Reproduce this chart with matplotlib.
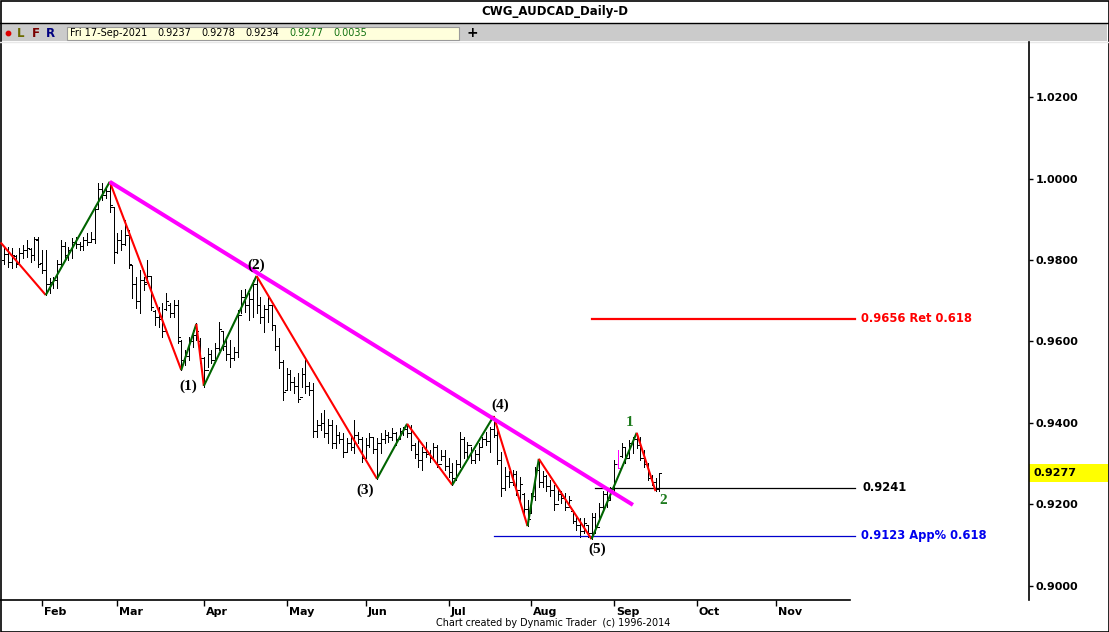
import numpy as np
import pandas as pd
import matplotlib
matplotlib.use("Agg")
import matplotlib.pyplot as plt
from matplotlib.patches import Rectangle, Circle

# ---------------- data (AUDCAD daily, 18-Jan-2021 .. 17-Sep-2021) ----------------
opens = [0.9800, 0.9815, 0.9795, 0.9810, 0.9792, 0.9818, 0.9825, 0.9828, 0.9812, 0.9850,
         0.9792, 0.9776, 0.9740, 0.9745, 0.9750, 0.9790, 0.9835, 0.9812, 0.9825, 0.9845,
         0.9840, 0.9835, 0.9850, 0.9845, 0.9852, 0.9925, 0.9975, 0.9960, 0.9970, 0.9930,
         0.9820, 0.9850, 0.9840, 0.9862, 0.9788, 0.9740, 0.9700, 0.9750, 0.9745, 0.9760,
         0.9675, 0.9660, 0.9655, 0.9680, 0.9690, 0.9670, 0.9690, 0.9600, 0.9555, 0.9565,
         0.9600, 0.9615, 0.9600, 0.9560, 0.9530, 0.9570, 0.9555, 0.9585, 0.9625, 0.9590,
         0.9570, 0.9560, 0.9575, 0.9665, 0.9710, 0.9690, 0.9705, 0.9740, 0.9690, 0.9660,
         0.9680, 0.9690, 0.9640, 0.9590, 0.9550, 0.9480, 0.9520, 0.9500, 0.9490, 0.9465,
         0.9520, 0.9490, 0.9480, 0.9380, 0.9395, 0.9400, 0.9375, 0.9395, 0.9350, 0.9370,
         0.9360, 0.9330, 0.9350, 0.9340, 0.9370, 0.9360, 0.9315, 0.9345, 0.9365, 0.9335,
         0.9350, 0.9360, 0.9370, 0.9365, 0.9375, 0.9360, 0.9380, 0.9385, 0.9375, 0.9345,
         0.9325, 0.9310, 0.9330, 0.9325, 0.9315, 0.9340, 0.9300, 0.9320, 0.9295, 0.9280,
         0.9265, 0.9300, 0.9360, 0.9330, 0.9345, 0.9310, 0.9325, 0.9340, 0.9360, 0.9355,
         0.9385, 0.9370, 0.9310, 0.9240, 0.9270, 0.9255, 0.9275, 0.9235, 0.9225, 0.9190,
         0.9180, 0.9220, 0.9285, 0.9255, 0.9270, 0.9245, 0.9235, 0.9200, 0.9225, 0.9215,
         0.9195, 0.9185, 0.9160, 0.9150, 0.9135, 0.9150, 0.9130, 0.9170, 0.9145, 0.9195,
         0.9225, 0.9210, 0.9238, 0.9300, 0.9320, 0.9340, 0.9315, 0.9350, 0.9360, 0.9345,
         0.9315, 0.9300, 0.9265, 0.9255, 0.9237]
highs = [0.9834, 0.9833, 0.9829, 0.9812, 0.9829, 0.9837, 0.9849, 0.9829, 0.9857, 0.9857,
         0.9825, 0.9825, 0.9755, 0.9759, 0.9800, 0.9849, 0.9845, 0.9833, 0.9853, 0.9857,
         0.9845, 0.9857, 0.9866, 0.9869, 0.9931, 0.9988, 0.9988, 0.9980, 0.9992, 0.9931,
         0.9866, 0.9874, 0.9898, 0.9874, 0.9788, 0.9759, 0.9775, 0.9759, 0.9800, 0.9759,
         0.9677, 0.9685, 0.9694, 0.9718, 0.9694, 0.9702, 0.9702, 0.9604, 0.9579, 0.9612,
         0.9628, 0.9645, 0.9608, 0.9563, 0.9583, 0.9579, 0.9596, 0.9649, 0.9624, 0.9612,
         0.9604, 0.9587, 0.9677, 0.9726, 0.9730, 0.9718, 0.9751, 0.9761, 0.9710, 0.9690,
         0.9710, 0.9690, 0.9641, 0.9608, 0.9555, 0.9534, 0.9530, 0.9514, 0.9522, 0.9534,
         0.9555, 0.9501, 0.9497, 0.9407, 0.9424, 0.9432, 0.9411, 0.9407, 0.9395, 0.9379,
         0.9375, 0.9362, 0.9366, 0.9407, 0.9379, 0.9366, 0.9362, 0.9375, 0.9366, 0.9362,
         0.9375, 0.9383, 0.9379, 0.9387, 0.9379, 0.9387, 0.9391, 0.9398, 0.9395, 0.9350,
         0.9358, 0.9342, 0.9354, 0.9334, 0.9350, 0.9346, 0.9334, 0.9334, 0.9313, 0.9301,
         0.9309, 0.9379, 0.9366, 0.9354, 0.9342, 0.9334, 0.9350, 0.9366, 0.9379, 0.9391,
         0.9417, 0.9392, 0.9330, 0.9293, 0.9281, 0.9285, 0.9281, 0.9268, 0.9228, 0.9211,
         0.9228, 0.9293, 0.9312, 0.9281, 0.9273, 0.9260, 0.9248, 0.9236, 0.9232, 0.9228,
         0.9220, 0.9187, 0.9174, 0.9166, 0.9166, 0.9150, 0.9179, 0.9179, 0.9203, 0.9232,
         0.9236, 0.9244, 0.9309, 0.9334, 0.9350, 0.9342, 0.9358, 0.9366, 0.9376, 0.9366,
         0.9334, 0.9301, 0.9273, 0.9264, 0.9278]
lows = [0.9790, 0.9784, 0.9780, 0.9784, 0.9796, 0.9804, 0.9808, 0.9796, 0.9800, 0.9784,
        0.9767, 0.9714, 0.9718, 0.9731, 0.9731, 0.9784, 0.9804, 0.9800, 0.9804, 0.9829,
        0.9825, 0.9825, 0.9837, 0.9845, 0.9841, 0.9927, 0.9947, 0.9951, 0.9919, 0.9792,
        0.9816, 0.9825, 0.9837, 0.9780, 0.9706, 0.9681, 0.9669, 0.9726, 0.9743, 0.9677,
        0.9640, 0.9636, 0.9612, 0.9677, 0.9661, 0.9661, 0.9596, 0.9530, 0.9542, 0.9555,
        0.9587, 0.9604, 0.9547, 0.9489, 0.9538, 0.9547, 0.9555, 0.9579, 0.9579, 0.9555,
        0.9538, 0.9555, 0.9563, 0.9669, 0.9673, 0.9653, 0.9661, 0.9669, 0.9645, 0.9624,
        0.9649, 0.9628, 0.9579, 0.9534, 0.9456, 0.9481, 0.9481, 0.9473, 0.9452, 0.9489,
        0.9473, 0.9469, 0.9366, 0.9366, 0.9383, 0.9366, 0.9350, 0.9338, 0.9338, 0.9350,
        0.9317, 0.9330, 0.9334, 0.9326, 0.9350, 0.9305, 0.9317, 0.9342, 0.9326, 0.9263,
        0.9326, 0.9350, 0.9354, 0.9358, 0.9346, 0.9362, 0.9371, 0.9366, 0.9334, 0.9313,
        0.9293, 0.9285, 0.9317, 0.9305, 0.9313, 0.9293, 0.9309, 0.9285, 0.9268, 0.9248,
        0.9260, 0.9293, 0.9313, 0.9313, 0.9301, 0.9301, 0.9309, 0.9342, 0.9346, 0.9330,
        0.9366, 0.9300, 0.9220, 0.9236, 0.9244, 0.9248, 0.9224, 0.9211, 0.9179, 0.9147,
        0.9179, 0.9211, 0.9244, 0.9244, 0.9232, 0.9220, 0.9187, 0.9211, 0.9203, 0.9187,
        0.9195, 0.9154, 0.9138, 0.9121, 0.9130, 0.9121, 0.9115, 0.9130, 0.9162, 0.9187,
        0.9195, 0.9211, 0.9232, 0.9289, 0.9317, 0.9301, 0.9313, 0.9326, 0.9338, 0.9309,
        0.9293, 0.9260, 0.9248, 0.9233, 0.9234]
closes = [0.9815, 0.9795, 0.9812, 0.9790, 0.9818, 0.9825, 0.9830, 0.9812, 0.9852, 0.9790,
          0.9775, 0.9740, 0.9745, 0.9750, 0.9790, 0.9835, 0.9812, 0.9825, 0.9845, 0.9840,
          0.9835, 0.9850, 0.9845, 0.9852, 0.9925, 0.9975, 0.9960, 0.9970, 0.9935, 0.9820,
          0.9850, 0.9840, 0.9862, 0.9790, 0.9740, 0.9700, 0.9750, 0.9740, 0.9760, 0.9685,
          0.9660, 0.9655, 0.9625, 0.9700, 0.9670, 0.9690, 0.9610, 0.9555, 0.9565, 0.9600,
          0.9615, 0.9625, 0.9560, 0.9530, 0.9570, 0.9555, 0.9585, 0.9630, 0.9590, 0.9570,
          0.9560, 0.9575, 0.9665, 0.9710, 0.9690, 0.9705, 0.9740, 0.9690, 0.9660, 0.9680,
          0.9690, 0.9640, 0.9590, 0.9550, 0.9475, 0.9520, 0.9500, 0.9490, 0.9460, 0.9520,
          0.9490, 0.9480, 0.9380, 0.9395, 0.9400, 0.9375, 0.9395, 0.9350, 0.9370, 0.9360,
          0.9330, 0.9350, 0.9340, 0.9370, 0.9360, 0.9315, 0.9345, 0.9365, 0.9335, 0.9350,
          0.9360, 0.9370, 0.9365, 0.9375, 0.9360, 0.9380, 0.9385, 0.9375, 0.9345, 0.9325,
          0.9310, 0.9330, 0.9325, 0.9315, 0.9340, 0.9300, 0.9320, 0.9295, 0.9280, 0.9265,
          0.9300, 0.9360, 0.9330, 0.9345, 0.9310, 0.9325, 0.9340, 0.9360, 0.9355, 0.9385,
          0.9370, 0.9310, 0.9240, 0.9270, 0.9255, 0.9275, 0.9235, 0.9250, 0.9190, 0.9165,
          0.9220, 0.9285, 0.9255, 0.9270, 0.9245, 0.9235, 0.9200, 0.9225, 0.9215, 0.9195,
          0.9210, 0.9160, 0.9150, 0.9135, 0.9155, 0.9130, 0.9170, 0.9145, 0.9195, 0.9225,
          0.9210, 0.9238, 0.9300, 0.9290, 0.9340, 0.9315, 0.9350, 0.9360, 0.9345, 0.9315,
          0.9300, 0.9265, 0.9255, 0.9237, 0.9277]
highlight_bar = 163          # bar drawn in magenta

# Elliott-wave zigzag (bar index, price)
wave_idx = [-1, 11, 28, 47, 51, 53, 67, 99, 107, 119, 130, 139, 142, 156, 168, 173]
wave_px = [0.9843, 0.9714, 0.9992, 0.9530, 0.9643, 0.9491, 0.9761, 0.9263, 0.9398,
           0.9248, 0.9417, 0.9147, 0.9312, 0.9115, 0.9376, 0.9233]

# trend line
trend_idx = [28, 167]
trend_px = [0.9992, 0.9199]

# wave labels
wave_labels = ["(1)", "(2)", "(3)", "(4)", "(5)", "1", "2"]
wave_lab_idx = [48.8, 66.9, 95.8, 131.7, 157.5, 166.0, 175.0]
wave_lab_px = [0.9491, 0.9788, 0.9236, 0.9444, 0.9091, 0.9400, 0.9209]

# price levels
level_vals = [0.9656, 0.9241, 0.9123]
level_text = ["0.9656 Ret 0.618", "0.9241", "0.9123 App% 0.618"]
level_start = [156, 157, 130]
level_end = 226

y_ticks = [0.90, 0.92, 0.94, 0.96, 0.98, 1.00, 1.02]
month_names = ["Feb", "Mar", "Apr", "May", "Jun", "Jul", "Aug", "Sep", "Oct", "Nov"]
last_price = 0.9277

# ---------------- figure ----------------
W, H = 1109, 632
fig = plt.figure(figsize=(W / 100, H / 100), dpi=100)
fig.patch.set_facecolor("white")

bg = fig.add_axes([0, 0, 1, 1], zorder=-1)
bg.set_xlim(0, W)
bg.set_ylim(H, 0)
bg.axis("off")

# title bar
bg.text(555, 11, "CWG_AUDCAD_Daily-D", ha="center", va="center",
        fontsize=8.5, fontweight="bold", family="DejaVu Sans")
bg.plot([0, W], [23, 23], color="black", lw=1)
bg.add_patch(Rectangle((1, 24), W - 3, 17, facecolor="#CBCBCB", edgecolor="none"))
bg.plot([0, W], [41.5, 41.5], color="#E8E8E8", lw=1)
bg.add_patch(Circle((8.5, 33.5), 2.2, color="#E00000"))
bg.text(17, 33.5, "L", color="#6B6B00", fontsize=8.5, fontweight="bold", va="center")
bg.text(32, 33.5, "F", color="#7A0000", fontsize=8.5, fontweight="bold", va="center")
bg.text(46, 33.5, "R", color="#000080", fontsize=8.5, fontweight="bold", va="center")
bg.add_patch(Rectangle((66.5, 26.5), 392, 13, facecolor="#FFFFDC", edgecolor="#9A9A9A", lw=0.8))
info_items = [("Fri 17-Sep-2021", 70, "black"), ("0.9237", 157, "black"),
              ("0.9278", 201, "black"), ("0.9234", 245, "black"),
              ("0.9277", 289, "#107010"), ("0.0035", 333, "#107010")]
for s, x, c in info_items:
    bg.text(x, 33.5, s, color=c, fontsize=7, va="center", ha="left", family="DejaVu Sans")
bg.text(472, 33, "+", fontsize=10, fontweight="bold", ha="center", va="center")

# footer
bg.text(553, 623, "Chart created by Dynamic Trader  (c) 1996-2014", ha="center",
        va="center", fontsize=6.9, family="DejaVu Sans")

# outer border
bg.add_patch(Rectangle((0.5, 0.5), W - 1, H - 1, facecolor="none", edgecolor="black", lw=1.2))

# ---------------- main price axes ----------------
ax = fig.add_axes([0, 32 / H, 1029 / W, 558 / H])
ax.set_facecolor("none")
x_lo, x_hi = -1.158, 272.22
ax.set_xlim(x_lo, x_hi)
ax.set_ylim(0.89656, 1.0335)

idx = np.arange(len(closes))
colors = ["black"] * len(closes)
colors[highlight_bar] = "#FF00FF"
bar_lw = 0.72
ax.vlines(idx, lows, highs, colors=colors, lw=bar_lw, antialiased=False)
ax.hlines(opens, idx - 0.55, idx, colors=colors, lw=bar_lw, antialiased=False)
ax.hlines(closes, idx, idx + 0.55, colors=colors, lw=bar_lw, antialiased=False)

# zigzag
for k in range(len(wave_idx) - 1):
    up = wave_px[k + 1] > wave_px[k]
    ax.plot(wave_idx[k:k + 2], wave_px[k:k + 2], color="#006400" if up else "#FF0000",
            lw=1.5, solid_capstyle="butt", zorder=4)

# trend line
ax.plot(trend_idx, trend_px, color="#FF00FF", lw=2.9, solid_capstyle="butt", zorder=5)

# wave labels
for s, xi, yp in zip(wave_labels, wave_lab_idx, wave_lab_px):
    col = "#1E7B1E" if s in ("1", "2") else "black"
    ax.text(xi, yp, s, ha="center", va="center", fontsize=11, fontweight="bold",
            family="Liberation Serif", color=col, zorder=6)

# levels
level_cols = ["#FF0000", "black", "#0000CC"]
level_lw = [1.6, 0.9, 0.9]
text_cols = ["#FF0000", "black", "#0000EE"]
for v, t, s0, c, lw, tc in zip(level_vals, level_text, level_start, level_cols, level_lw, text_cols):
    ax.plot([s0, level_end], [v, v], color=c, lw=lw, zorder=3)
    ax.text(level_end + (1.6 if t != "0.9241" else 2.1), v, t, color=tc, fontsize=8.3,
            fontweight="bold", va="center", ha="left", family="DejaVu Sans")

# spines
for sp in ("top", "left"):
    ax.spines[sp].set_visible(False)
ax.spines["right"].set_linewidth(1.2)
ax.spines["bottom"].set_linewidth(1.2)
ax.spines["bottom"].set_bounds(x_lo, 224.7)

# y axis on the right
ax.yaxis.tick_right()
ax.set_yticks(y_ticks)
ax.set_yticklabels([f"{v:.4f}" for v in y_ticks], fontsize=8, fontweight="bold",
                   family="DejaVu Sans")
ax.tick_params(axis="y", direction="out", length=3, pad=2, width=1)

# month ticks
all_days = pd.bdate_range("2021-01-18", "2021-11-30")
month_idx = []
for m in range(2, 12):
    month_idx.append(int(np.where(all_days.month == m)[0][0]))
ax.set_xticks(month_idx)
ax.set_xticklabels([""] * len(month_idx))
ax.tick_params(axis="x", direction="out", length=4, width=1)
xtr = ax.get_xaxis_transform()
for mi, name in zip(month_idx, month_names):
    ax.text(mi + 0.5, -0.0215, name, transform=xtr, ha="left", va="center",
            fontsize=8, fontweight="bold", family="DejaVu Sans")

# last price box
ytr = ax.get_yaxis_transform()
half = 0.00212
ax.add_patch(Rectangle((1.0, last_price - half), 1108 / 1029 - 1.0, 2 * half,
                       transform=ytr, facecolor="#FFFF00", edgecolor="none", clip_on=False,
                       zorder=2))
ax.text(1034 / 1029, last_price, f"{last_price:.4f}", transform=ytr, ha="left",
        va="center", fontsize=8, fontweight="bold", family="DejaVu Sans", clip_on=False)

fig.savefig("out.png", dpi=100, facecolor="white")
